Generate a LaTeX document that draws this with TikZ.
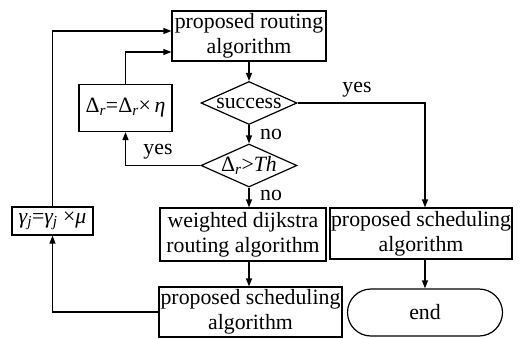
\documentclass[tikz,border=0pt]{standalone}
\usepackage{fontspec}
\setmainfont{Liberation Serif}
\usetikzlibrary{shapes.geometric,arrows.meta}
\begin{document}
\begin{tikzpicture}[x=1pt,y=-1pt, line width=1.2pt,
  txt/.style={font=\fontsize{21.8}{25}\selectfont},
  box/.style={draw, rectangle, inner sep=0pt, align=center, txt},
  diam/.style={draw, diamond, inner sep=0pt, minimum width=96pt, minimum height=43pt},
  arr/.style={-{Triangle[length=8pt,width=6pt]}}]
\useasboundingbox (0,0) rectangle (525,338);

\node[box, minimum width=154pt, minimum height=50pt] (top) at (249,36) {proposed routing\\algorithm};
\node[diam] (suc) at (249,103) {};
\node[txt] (suct) at (suc) {success};
\node[diam] (thr) at (249,165.5) {};
\node[txt] (thrt) at (thr) {Δ\textsubscript{\itshape r}>{\itshape Th}};
\node[box, minimum width=93pt, minimum height=47pt] (dr) at (125.5,108) {Δ\textsubscript{\itshape r}=Δ\textsubscript{\itshape r}×\,{\itshape η}};
\node[box, minimum width=81pt, minimum height=28pt] (gam) at (52.5,221) {{\itshape γ\textsubscript{j}}={\itshape γ\textsubscript{j}} ×{\itshape μ}};
\node[box, minimum width=166pt, minimum height=53pt] (wd) at (243,234.5) {weighted dijkstra\\routing algorithm};
\node[box, minimum width=183pt, minimum height=50pt] (ps1) at (250.5,312) {proposed scheduling\\algorithm};
\node[box, minimum width=182pt, minimum height=51pt] (ps2) at (421,233.5) {proposed scheduling\\algorithm};
\node[draw, rounded corners=23.5pt, minimum width=155pt, minimum height=47pt, inner sep=0pt, txt] (end) at (425,312.5) {end};

\draw[arr] (top) -- (suc);
\draw[arr] (suc) -- (thr);
\draw[arr] (thr.south) -- (thr.south |- wd.north);
\draw[arr] (thr.south |- wd.south) -- (thr.south |- ps1.north);
\draw[arr] (suc.east) -| (ps2.north -| end.north);
\draw[arr] (ps2.south -| end.north) -- (end.north);
\draw[arr] (thr.west) -| (dr.south);
\draw[arr] (dr.north) |- ([yshift=-16pt]top.west);
\draw[arr] (gam.north) |- ([yshift=5pt]top.west);
\draw[arr] (ps1.west) -| (gam.south);

\node[txt] (l1) at (357,90) {yes};
\node[txt] (l2) at (271,134) {no};
\node[txt] (l3) at (271,195) {no};
\node[txt] (l4) at (158,152) {yes};
\end{tikzpicture}
\end{document}
